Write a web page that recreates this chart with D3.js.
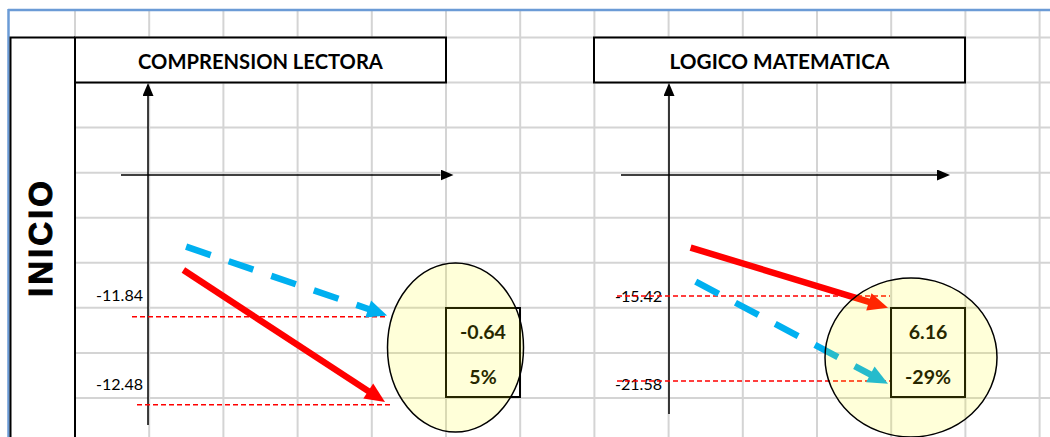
<!DOCTYPE html>
<html>
<head>
<meta charset="utf-8">
<script src="https://cdn.jsdelivr.net/npm/d3@7"></script>
<style>
  html, body { margin: 0; padding: 0; background: #fff; }
  svg { display: block; }
</style>
</head>
<body>
<svg id="chart" width="1050" height="437"></svg>
<script>
// ---------------- DATA ----------------
const rowLabel = "INICIO";
const panels = ["COMPRENSION LECTORA", "LOGICO MATEMATICA"];
const refTop = [-11.84, -15.42];        // upper reference value per panel
const refBottom = [-12.48, -21.58];     // lower reference value per panel
const refTopLabels = ["-11.84", "-15.42"];
const refBottomLabels = ["-12.48", "-21.58"];
const diffLabels = ["-0.64", "6.16"];
const pctLabels = ["5%", "-29%"];
// arrows: [start, end] values (y) and horizontal positions (0-100 scale)
const redY = [[-11.50, -12.46], [-11.91, -16.27]];
const redX = [[11.8, 79.0], [7.2, 73.0]];
const blueY = [[-11.33, -11.83], [-14.38, -21.78]];
const blueX = [[12.7, 79.7], [8.9, 73.0]];

// ---------------- LAYOUT ----------------
const svg = d3.select("#chart");
const W = 1050, H = 437;
const gridColor = "#d4d4d4";
const RED = "#ff0000", BLUE = "#00b0f0";
const colX = d3.range(14).map(i => 75 + i * 74.2);
const rowY = d3.range(9).map(j => 37.5 + j * 45.06);

// panel layouts (pixel geometry)
const layout = [
  { axisX: 148, hx0: 121, hx1: 453.5, vTop: 83, vBot: 425, titleX0: 75, titleX1: 446,
    yRange: [316.8, 404.8], ref1: [132, 387], ref2: [137, 392], labelX: 143,
    labelY: [295, 384], ell: { cx: 455.5, cy: 347.5, rx: 68, ry: 84.5 }, box: [446, 520] },
  { axisX: 669, hx0: 621, hx1: 950, vTop: 83, vBot: 414, titleX0: 594, titleX1: 965,
    yRange: [296, 381], ref1: [617, 890], ref2: [617, 890], labelX: 662,
    labelY: [296, 384], ell: { cx: 911, cy: 357.5, rx: 86, ry: 79.5 }, box: [891, 965] }
];
const hAxisY = 175;
const boxY = [308, 397];

// ---------------- GRID ----------------
const grid = svg.append("g");
grid.selectAll("line.v").data(colX).join("line")
  .attr("x1", d => d).attr("x2", d => d).attr("y1", 10).attr("y2", H)
  .attr("stroke", gridColor).attr("stroke-width", 2);
grid.selectAll("line.h").data(rowY).join("line")
  .attr("x1", 75).attr("x2", W).attr("y1", d => d).attr("y2", d => d)
  .attr("stroke", gridColor).attr("stroke-width", 2);

// window border (blue)
svg.append("line").attr("x1", 8).attr("x2", W).attr("y1", 10).attr("y2", 10)
  .attr("stroke", "#6b9bd6").attr("stroke-width", 2.5);
svg.append("line").attr("x1", 8.5).attr("x2", 8.5).attr("y1", 9).attr("y2", H)
  .attr("stroke", "#6b9bd6").attr("stroke-width", 2.5);

// row label cell border
svg.append("path").attr("d", `M10.5,${H} V37.5 H75 M75,37.5 V${H}`)
  .attr("fill", "none").attr("stroke", "#000").attr("stroke-width", 2);

const fit = (sel, target) => {
  const w = sel.node().getComputedTextLength();
  const fs = parseFloat(sel.attr("font-size"));
  sel.attr("font-size", fs * target / w);
  return fs * target / w;
};

// row label
svg.append("text").text(rowLabel)
  .attr("transform", "translate(52,239) rotate(-90)")
  .attr("text-anchor", "middle")
  .attr("font-family", "'Liberation Sans', Arial, sans-serif")
  .attr("font-weight", "bold").attr("font-size", 33)
  .attr("textLength", 116).attr("lengthAdjust", "spacing")
  .attr("fill", "#000").attr("stroke", "#000").attr("stroke-width", 1);

// arrow marker defs
const defs = svg.append("defs");
function marker(id, color, L, Wd) {
  defs.append("marker").attr("id", id)
    .attr("viewBox", `0 0 ${L} ${Wd}`).attr("refX", 0).attr("refY", Wd / 2)
    .attr("markerUnits", "userSpaceOnUse")
    .attr("markerWidth", L).attr("markerHeight", Wd).attr("orient", "auto")
    .append("path").attr("d", `M0,0 L${L},${Wd / 2} L0,${Wd} Z`).attr("fill", color);
}
marker("axHead", "#000", 13, 11);

// helper: thick arrow with polygon head
function thickArrow(g, x0, y0, x1, y1, color, dashed) {
  const L = 20, Wd = 18;
  const dx = x1 - x0, dy = y1 - y0, len = Math.hypot(dx, dy);
  const ux = dx / len, uy = dy / len;
  const bx = x1 - ux * L, by = y1 - uy * L;
  g.append("line").attr("x1", x0).attr("y1", y0).attr("x2", bx + ux * 1).attr("y2", by + uy * 1)
    .attr("stroke", color).attr("stroke-width", 6.5)
    .attr("stroke-dasharray", dashed ? "26,19" : null);
  const px = -uy, py = ux;
  g.append("path")
    .attr("d", `M${x1},${y1} L${bx + px * Wd / 2},${by + py * Wd / 2} L${bx - px * Wd / 2},${by - py * Wd / 2} Z`)
    .attr("fill", color);
}

// ---------------- PANELS ----------------
panels.forEach((name, i) => {
  const L = layout[i];
  const g = svg.append("g");
  const y = d3.scaleLinear().domain([refTop[i], refBottom[i]]).range(L.yRange);
  const x = d3.scaleLinear().domain([0, 100]).range([L.axisX, L.axisX + 300]);

  // title box
  g.append("rect").attr("x", L.titleX0).attr("y", 37.5)
    .attr("width", L.titleX1 - L.titleX0).attr("height", 45)
    .attr("fill", "#fff").attr("stroke", "#000").attr("stroke-width", 2);
  const t = g.append("text").text(name)
    .attr("x", (L.titleX0 + L.titleX1) / 2).attr("text-anchor", "middle")
    .attr("font-family", "Lato, 'Open Sans', sans-serif").attr("font-weight", "bold")
    .attr("font-size", 20).attr("fill", "#000");
  const tfs = fit(t, i === 0 ? 245 : 220);
  t.attr("y", 61.5 + 0.72 * tfs / 2);

  // axes
  g.append("line").attr("x1", L.axisX).attr("x2", L.axisX)
    .attr("y1", L.vBot).attr("y2", L.vTop + 13)
    .attr("stroke", "#000").attr("stroke-width", 1.5).attr("marker-end", "url(#axHead)");
  g.append("line").attr("x1", L.hx0).attr("x2", L.hx1 - 13)
    .attr("y1", hAxisY).attr("y2", hAxisY)
    .attr("stroke", "#000").attr("stroke-width", 1.5).attr("marker-end", "url(#axHead)");

  // reference labels
  const labels = [refTopLabels[i], refBottomLabels[i]];
  labels.forEach((lab, k) => {
    const tx = g.append("text").text(lab)
      .attr("x", L.labelX).attr("text-anchor", "end")
      .attr("font-family", "Lato, 'Open Sans', sans-serif")
      .attr("font-size", 16).attr("fill", "#000");
    const fs = fit(tx, 47);
    tx.attr("y", L.labelY[k] + 0.72 * fs / 2);
  });

  // reference dashed lines
  [[refTop[i], L.ref1], [refBottom[i], L.ref2]].forEach(([v, xr]) => {
    g.append("line").attr("x1", xr[0]).attr("x2", xr[1])
      .attr("y1", y(v)).attr("y2", y(v))
      .attr("stroke", RED).attr("stroke-width", 1.5).attr("stroke-dasharray", "5,3");
  });

  // arrows
  thickArrow(g, x(redX[i][0]), y(redY[i][0]), x(redX[i][1]), y(redY[i][1]), RED, false);
  thickArrow(g, x(blueX[i][0]), y(blueY[i][0]), x(blueX[i][1]), y(blueY[i][1]), BLUE, true);

  // result box
  g.append("rect").attr("x", L.box[0]).attr("y", boxY[0])
    .attr("width", L.box[1] - L.box[0]).attr("height", boxY[1] - boxY[0])
    .attr("fill", "none").attr("stroke", "#000").attr("stroke-width", 2);
  const cx = (L.box[0] + L.box[1]) / 2;
  const probe = g.append("text").text("-0.64")
    .attr("font-family", "Lato, 'Open Sans', sans-serif").attr("font-weight", "bold")
    .attr("font-size", 20);
  const bfs = fit(probe, 46);
  probe.remove();
  [[diffLabels[i], 332], [pctLabels[i], 377]].forEach(([s, cy]) => {
    g.append("text").text(s).attr("x", cx).attr("y", cy + 0.72 * bfs / 2)
      .attr("text-anchor", "middle")
      .attr("font-family", "Lato, 'Open Sans', sans-serif").attr("font-weight", "bold")
      .attr("font-size", bfs).attr("fill", "#000");
  });

  // translucent ellipse on top
  g.append("ellipse").attr("cx", L.ell.cx).attr("cy", L.ell.cy)
    .attr("rx", L.ell.rx).attr("ry", L.ell.ry)
    .attr("fill", "#ffff00").attr("fill-opacity", 0.15)
    .attr("stroke", "#000").attr("stroke-width", 1.5);
});
</script>
</body>
</html>
